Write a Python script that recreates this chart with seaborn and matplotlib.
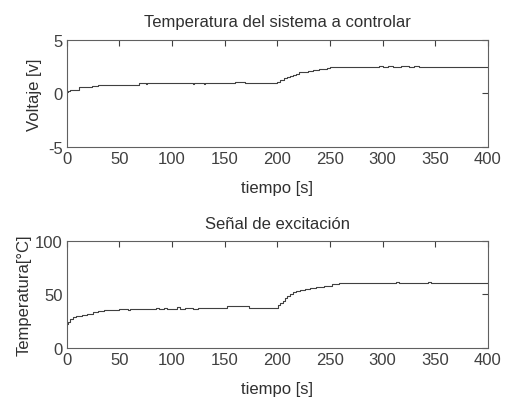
import matplotlib
matplotlib.use("Agg")
import matplotlib.pyplot as plt
import seaborn as sns
import pandas as pd

sns.set_style("white")
plt.rcParams['font.family'] = ['Liberation Sans', 'DejaVu Sans']
plt.rcParams['axes.unicode_minus'] = False

# Top panel: voltage vs time (step-like samples)
t_volt = [0, 1, 3, 8, 12, 18, 24, 30, 36, 50, 69, 75, 76, 120, 121, 130, 131, 158, 160, 167, 169,
          198, 200, 203, 206, 209, 212, 215, 218, 221, 225, 229, 234, 240, 247, 250, 295, 297, 300,
          305, 310, 318, 325, 330, 335, 340, 400]
volt = [0.1, 0.2, 0.3, 0.35, 0.57, 0.6, 0.72, 0.75, 0.79, 0.8, 0.95, 0.88, 0.95, 0.88, 0.95, 0.9, 0.95, 0.95, 1.1, 1.08, 0.97,
        0.97, 1.1, 1.25, 1.4, 1.55, 1.66, 1.75, 1.85, 1.97, 2.05, 2.12, 2.2, 2.27, 2.35, 2.44, 2.44, 2.52, 2.44,
        2.53, 2.46, 2.53, 2.47, 2.53, 2.48, 2.5, 2.5]

# Bottom panel: temperature vs time
t_temp = [0, 1, 3, 6, 9, 14, 19, 25, 30, 35, 50, 58, 60, 82, 85, 88, 92, 95, 105, 108, 112, 120, 125, 133,
          152, 155, 158, 173, 199, 201, 203, 205, 207, 209, 212, 215, 218, 222, 226, 231, 237, 244, 252, 259,
          310, 313, 316, 340, 343, 346, 390, 400]
temp = [22, 24, 27, 28.5, 29.7, 30.5, 31.6, 33.5, 34.3, 35.3, 36.2, 35.4, 36.2, 36.8, 37.6, 36.6, 37.6, 36.8, 37.8, 36.6, 37.4, 36.8, 37.5, 37.7,
        39, 39.6, 39, 37.7, 37.7, 40, 42, 44.2, 46.5, 48.5, 50.4, 52, 53.5, 54.5, 55.2, 56, 57.2, 58.2, 59.5, 60.7,
        60.7, 61.3, 60.5, 60.7, 61.3, 60.8, 61, 61.5]

tick_x = [0, 50, 100, 150, 200, 250, 300, 350, 400]

df_v = pd.DataFrame({"t": t_volt, "v": volt})
df_t = pd.DataFrame({"t": t_temp, "T": temp})

fig = plt.figure(figsize=(5.06, 4.06), dpi=100)
ax1 = fig.add_axes([0.132, 0.636, 0.832, 0.263])
ax2 = fig.add_axes([0.132, 0.140, 0.832, 0.265])

line_c = "#404040"
spine_c = "#606060"
txt_c = "#303030"
fs = 12

sns.lineplot(data=df_v, x="t", y="v", ax=ax1, color=line_c, lw=0.8, drawstyle="steps-post")
sns.lineplot(data=df_t, x="t", y="T", ax=ax2, color=line_c, lw=0.8, drawstyle="steps-post")

for ax in (ax1, ax2):
    ax.set_xlim(0, 400)
    ax.set_xticks(tick_x)
    ax.tick_params(direction="in", length=4, width=0.8, colors="#404040", labelsize=fs,
                   top=True, right=True, pad=3)
    for s in ax.spines.values():
        s.set_color(spine_c)
        s.set_linewidth(0.8)
    ax.set_xlabel("tiempo [s]", fontsize=fs, color=txt_c, labelpad=10)

ax1.set_ylim(-5, 5)
ax1.set_yticks([-5, 0, 5])
ax1.set_ylabel("Voltaje [v]", fontsize=fs, color=txt_c, labelpad=4)
ax1.set_title("Temperatura del sistema a controlar", fontsize=fs, color=txt_c, pad=10)

ax2.set_ylim(0, 100)
ax2.set_yticks([0, 50, 100])
ax2.set_ylabel("Temperatura[°C]", fontsize=fs, color=txt_c, labelpad=2)
ax2.set_title("Señal de excitación", fontsize=fs, color=txt_c, pad=9)

fig.savefig("out.png", dpi=100, facecolor="white")
